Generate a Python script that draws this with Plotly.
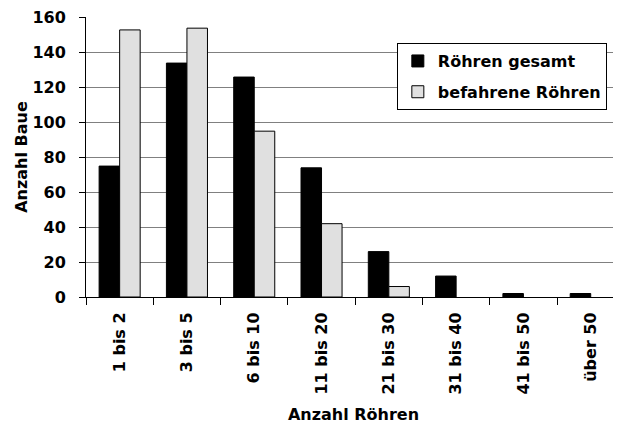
import plotly.graph_objects as go

categories = ["1 bis 2", "3 bis 5", "6 bis 10", "11 bis 20", "21 bis 30", "31 bis 40", "41 bis 50", "über 50"]
roehren_gesamt = [75, 134, 126, 74, 26, 12, 2, 2]
befahrene_roehren = [153, 154, 95, 42, 6, 0, 0, 0]
y_ticks = [0, 20, 40, 60, 80, 100, 120, 140, 160]

FONT = "DejaVu Sans"

def outline_widths(values):
    return [1 if v > 0 else 0 for v in values]

fig = go.Figure()
fig.add_trace(go.Bar(x=categories, y=roehren_gesamt, name="Röhren gesamt", legendgroup="g1",
                     marker=dict(color="#000000",
                                 line=dict(color="#000000", width=outline_widths(roehren_gesamt)))))
fig.add_trace(go.Bar(x=categories, y=befahrene_roehren, name="befahrene Röhren", legendgroup="g2",
                     marker=dict(color="#e0e0e0",
                                 line=dict(color="#000000", width=outline_widths(befahrene_roehren)))))

# page body has an 8px margin, so the figure is sized to fit the 621x430 window
fig.update_layout(
    width=613, height=422,
    margin=dict(l=78, r=0, t=9, b=133),
    paper_bgcolor="white", plot_bgcolor="white",
    barmode="group", bargap=0.39, bargroupgap=0,
    font=dict(family=FONT, size=16, color="black", weight="bold"),
    legend=dict(x=0.581, y=0.907, xanchor="left", yanchor="top",
                bgcolor="white", bordercolor="black", borderwidth=1,
                font=dict(family=FONT, size=16, color="black", weight="bold"),
                tracegroupgap=7),
    showlegend=True,
)
fig.update_xaxes(
    type="category", range=[-0.5, 7.45], automargin=False,
    showline=True, linecolor="black", linewidth=1,
    ticks="outside", ticklen=7, tickcolor="black", tickson="boundaries",
    tickangle=-90, tickfont=dict(family=FONT, size=16, color="black", weight="bold"),
    ticklabelstandoff=8, ticklabeloverflow="allow",
    showgrid=False,
    title=dict(text="Anzahl Röhren", font=dict(family=FONT, size=16, color="black", weight="bold"), standoff=15),
)
fig.update_yaxes(
    range=[0, 160.4], tickvals=y_ticks, automargin=False,
    showline=True, linecolor="black", linewidth=1,
    ticks="outside", ticklen=6, tickcolor="black",
    tickfont=dict(family=FONT, size=16, color="black", weight="bold"),
    ticklabelstandoff=10, ticklabeloverflow="allow",
    showgrid=True, gridcolor="#808080", gridwidth=1,
    zeroline=False,
    title=dict(text="Anzahl Baue", font=dict(family=FONT, size=16, color="black", weight="bold"), standoff=0),
)

fig.write_html("out.html")
